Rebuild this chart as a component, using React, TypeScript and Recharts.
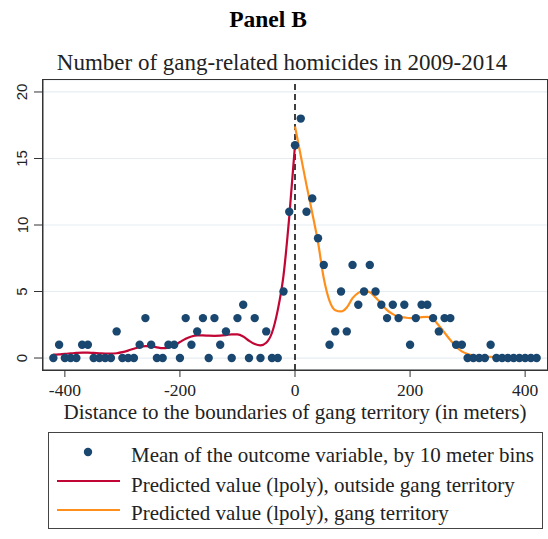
import {
  ComposedChart,
  Line,
  Scatter,
  XAxis,
  YAxis,
  CartesianGrid,
  ReferenceLine,
} from 'recharts';

// 10 m bins, negative = outside gang territory
const leftBins = [
  -420, -410, -400, -390, -380, -370, -360, -350, -340, -330, -320, -310, -300, -290, -280,
  -270, -260, -250, -240, -230, -220, -210, -200, -190, -180, -170, -160, -150, -140, -130,
  -120, -110, -100, -90, -80, -70, -60, -50, -40, -30, -20, -10, 0,
];
const leftMeans = [
  0, 1, 0, 0, 0, 1, 1, 0, 0, 0, 0, 2, 0, 0, 0,
  1, 3, 1, 0, 0, 1, 1, 0, 3, 1, 2, 3, 0, 3, 1,
  2, 0, 3, 4, 0, 3, 0, 2, 0, 0, 5, 11, 16,
];
const leftFit = [
  0.25, 0.28, 0.32, 0.35, 0.38, 0.4, 0.4, 0.38, 0.36, 0.34, 0.33, 0.36, 0.44, 0.56, 0.7,
  0.83, 0.9, 0.88, 0.8, 0.74, 0.78, 0.95, 1.2, 1.45, 1.62, 1.7, 1.7, 1.68, 1.67, 1.68,
  1.72, 1.78, 1.78, 1.62, 1.3, 1.05, 0.95, 1.15, 1.9, 3.6, 6.2, 10.6, 16,
];

const rightBins = [
  10, 20, 30, 40, 50, 60, 70, 80, 90, 100, 110, 120, 130, 140, 150, 160, 170, 180, 190, 200,
  210, 220, 230, 240, 250, 260, 270, 280, 290, 300, 310, 320, 330, 340, 350, 360, 370, 380,
  390, 400, 410, 420,
];
const rightMeans = [
  18, 11, 12, 9, 7, 1, 2, 5, 2, 7, 4, 5, 7, 5, 4, 3, 4, 3, 4, 1,
  3, 4, 4, 3, 2, 3, 3, 1, 1, 0, 0, 0, 0, 1, 0, 0, 0, 0,
  0, 0, 0, 0,
];
const insideBins = [0, ...rightBins];
const insideFit = [
  17.4, 15.2, 13.0, 10.9, 8.7, 6.0, 4.3, 3.6, 3.5, 3.8, 4.5, 4.9, 5.05, 4.95, 4.55, 4.1, 3.6,
  3.3, 3.1, 3.05, 3.0, 3.02, 3.08, 3.1, 2.9, 2.45, 1.9, 1.35, 0.85, 0.5, 0.3, 0.18, 0.12,
  0.09, 0.08, 0.06, 0.05, 0.05, 0.04, 0.03, 0.03, 0.02, 0.02,
];

const xTicks = [-400, -200, 0, 200, 400];
const yTicks = [0, 5, 10, 15, 20];
const xDomain = [-438, 438];
const yDomain = [-0.9, 20.9];

const dotRows = [
  ...leftBins.map((d, i) => ({ d, v: leftMeans[i] })),
  ...rightBins.map((d, i) => ({ d, v: rightMeans[i] })),
];
const outsideRows = leftBins.map((d, i) => ({ d, v: leftFit[i] }));
const insideRows = insideBins.map((d, i) => ({ d, v: insideFit[i] }));

const NAVY = '#1a476f';
const RED = '#c10534';
const ORANGE = '#ff8f1c';
const FRAME = '#333';
const SERIF = '"Liberation Serif", "Times New Roman", serif';

// plot box inside the 548x420 chart
const PLOT = { left: 43, top: 80, width: 504, height: 290 };

const YTick = ({ y, payload }: any) => (
  <text
    x={22}
    y={y}
    transform={`rotate(-90, 22, ${y})`}
    textAnchor="middle"
    dominantBaseline="central"
    fontFamily='"Liberation Sans", Arial, sans-serif'
    fontSize={15}
    fill="#222"
  >
    {payload.value}
  </text>
);

const XTick = ({ x, payload }: any) => (
  <text x={x} y={395.5} textAnchor="middle" fontFamily={SERIF} fontSize={17.5} fill="#222">
    {payload.value}
  </text>
);

const Dot = ({ cx, cy }: any) => <circle cx={cx} cy={cy} r={4.2} fill={NAVY} />;

export default function App() {
  return (
    <div style={{ position: 'absolute', left: 0, top: 0, width: 548, height: 539, background: '#fff' }}>
      <svg width={548} height={80} style={{ position: 'absolute', left: 0, top: 0 }}>
        <text x={268} y={27} textAnchor="middle" fontFamily={SERIF} fontWeight="bold" fontSize={23.5} fill="#000">
          Panel B
        </text>
        <text x={282} y={70} textAnchor="middle" fontFamily={SERIF} fontSize={23} fill="#222">
          Number of gang-related homicides in 2009-2014
        </text>
      </svg>

      <div style={{ position: 'absolute', left: 0, top: 0 }}>
        <ComposedChart
          width={548}
          height={420}
          margin={{ top: PLOT.top, right: 548 - PLOT.left - PLOT.width, left: 0, bottom: 0 }}
        >
          <CartesianGrid vertical={false} stroke="#e6edf2" strokeWidth={1.2} />
          <XAxis
            type="number"
            dataKey="d"
            domain={xDomain}
            ticks={xTicks}
            height={420 - PLOT.top - PLOT.height}
            tickSize={7}
            tick={<XTick />}
            stroke={FRAME}
            allowDataOverflow
          />
          <YAxis
            type="number"
            domain={yDomain}
            ticks={yTicks}
            width={PLOT.left}
            tickSize={9}
            tick={<YTick />}
            stroke={FRAME}
            allowDataOverflow
          />
          <ReferenceLine x={0} stroke="#111" strokeWidth={1.6} strokeDasharray="6 4" />
          <Scatter data={dotRows} dataKey="v" shape={<Dot />} isAnimationActive={false} />
          <Line
            data={outsideRows}
            dataKey="v"
            type="monotone"
            stroke={RED}
            strokeWidth={2.2}
            dot={false}
            activeDot={false}
            isAnimationActive={false}
          />
          <Line
            data={insideRows}
            dataKey="v"
            type="monotone"
            stroke={ORANGE}
            strokeWidth={2.2}
            dot={false}
            activeDot={false}
            isAnimationActive={false}
          />
        </ComposedChart>
      </div>

      {/* frame around the plot region, on whole pixels */}
      <div
        style={{
          position: 'absolute',
          left: PLOT.left - 1,
          top: PLOT.top - 1,
          width: PLOT.width + 2,
          height: PLOT.height + 2,
          border: `1px solid ${FRAME}`,
          boxSizing: 'border-box',
          pointerEvents: 'none',
          zIndex: 2,
        }}
      />

      <svg width={548} height={140} style={{ position: 'absolute', left: 0, top: 399 }}>
        <text x={295} y={19.5} textAnchor="middle" fontFamily={SERIF} fontSize={21} fill="#222">
          Distance to the boundaries of gang territory (in meters)
        </text>
        <rect x={48.5} y={33.5} width={494} height={96} fill="#fff" stroke="#444" strokeWidth={1} />
        <circle cx={88} cy={53} r={4.2} fill={NAVY} />
        <line x1={57} x2={120} y1={82} y2={82} stroke={RED} strokeWidth={2.2} />
        <line x1={57} x2={120} y1={111} y2={111} stroke={ORANGE} strokeWidth={2.2} />
        <g fontFamily={SERIF} fontSize={21} fill="#222">
          <text x={131} y={62.5}>Mean of the outcome variable, by 10 meter bins</text>
          <text x={131} y={92.5}>Predicted value (lpoly), outside gang territory</text>
          <text x={131} y={121}>Predicted value (lpoly), gang territory</text>
        </g>
      </svg>
    </div>
  );
}
